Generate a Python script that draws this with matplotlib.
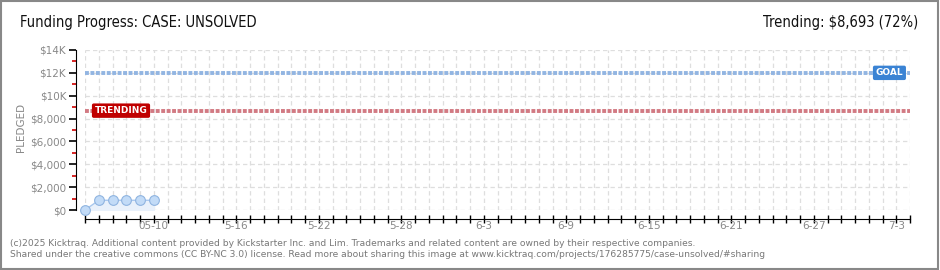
import pandas as pd
import numpy as np
import matplotlib
matplotlib.use('Agg')
import matplotlib.pyplot as plt
import matplotlib.dates as mdates
from matplotlib.ticker import FixedLocator
from matplotlib.patches import Rectangle

# data
dates = ['2025-05-05', '2025-05-06', '2025-05-07', '2025-05-08', '2025-05-09', '2025-05-10']
pledged = [0, 850, 850, 850, 850, 850]
goal = 12000
trending = 8693
title = 'Funding Progress: CASE: UNSOLVED'
label_dates = ['2025-05-10', '2025-05-16', '2025-05-22', '2025-05-28', '2025-06-03',
               '2025-06-09', '2025-06-15', '2025-06-21', '2025-06-27', '2025-07-03']
label_text = ['05-10', '5-16', '5-22', '5-28', '6-3', '6-9', '6-15', '6-21', '6-27', '7-3']
y_ticks = [0, 2000, 4000, 6000, 8000, 10000, 12000, 14000]
y_labels = ['$0', '$2,000', '$4,000', '$6,000', '$8,000', '$10K', '$12K', '$14K']

d = pd.to_datetime(dates)
x0 = pd.Timestamp('2025-05-05')
x1 = pd.Timestamp('2025-07-04')

fig = plt.figure(figsize=(9.4, 2.7), dpi=100)
ax = fig.add_axes([85/940, 60/270, 825/940, 160/270])

ax.fill_between(d, pledged, 0, color='#e9f1fb', zorder=2)
ax.plot(d, pledged, color='#a9c8ee', lw=1, zorder=3)
ax.plot(d, pledged, 'o', ms=7, mfc='#c2dbf7', mec='#8fb4e0', mew=0.8, zorder=4, clip_on=False)

ax.axhline(goal, color='#92b5e2', lw=2.8, ls=(0, (1, 0.4)), zorder=3)
ax.axhline(trending, color='#d27a83', lw=2.8, ls=(0, (1, 0.4)), zorder=3)

ax.set_xlim(x0, x1)
ax.set_ylim(0, 14000)

# grid
ax.xaxis.set_major_locator(mdates.DayLocator())
ax.xaxis.set_major_formatter(plt.NullFormatter())
ax.set_yticks(y_ticks)
ax.set_yticklabels(y_labels)
ax.yaxis.set_minor_locator(FixedLocator([1000, 3000, 5000, 7000, 9000, 11000, 13000]))
ax.grid(True, which='major', color='#dedede', ls=(0, (3.5, 2.5)), lw=0.9, zorder=0)

for s in ['top', 'right']:
    ax.spines[s].set_visible(False)
ax.spines['left'].set_position(('outward', 6.5))
ax.spines['bottom'].set_position(('outward', 6.5))
ax.spines['left'].set_bounds(0, 14000)
ax.tick_params(axis='y', which='major', length=5, width=1.2, color='black',
               labelsize=7.5, labelcolor='#888888', pad=2)
ax.tick_params(axis='y', which='minor', length=3, width=1.2, color='#d00000')
ax.tick_params(axis='x', which='major', length=6, width=1, direction='inout', color='black')

for ld, lt in zip(label_dates, label_text):
    ax.annotate(lt, xy=(mdates.date2num(pd.Timestamp(ld)), 0), xycoords=('data', 'axes fraction'),
                xytext=(0, -11.5), textcoords='offset points', ha='center', va='center',
                fontsize=7.5, color='#888888')

fig.text(21/940, 1 - 127/270, 'PLEDGED', fontsize=7.5, color='#888888', rotation=90,
         ha='center', va='center')

# markers on the lines
ax.text(mdates.date2num(x0) + 57.5, goal, 'GOAL', fontsize=6.5, color='white',
        fontweight='bold', ha='left', va='center', zorder=5,
        bbox=dict(boxstyle='round,pad=0.3,rounding_size=0.2', fc='#3a83d4', ec='none'))
ax.text(mdates.date2num(x0) + 0.7, trending, 'TRENDING', fontsize=6.5,
        color='white', fontweight='bold', ha='left', va='center', zorder=5,
        bbox=dict(boxstyle='round,pad=0.3,rounding_size=0.2', fc='#c00000', ec='none'))

fig.text(20/940, 1 - 23/270, title, fontsize=10.5, family='DejaVu Sans', fontstretch='condensed',
         ha='left', va='center', color='#111111')
fig.text(918/940, 1 - 23/270, 'Trending: $8,693 (72%)', fontsize=10.5, family='DejaVu Sans',
         fontstretch='condensed', ha='right', va='center', color='#111111')

foot = ('(c)2025 Kicktraq. Additional content provided by Kickstarter Inc. and Lim. Trademarks and related content are owned by their respective companies.\n'
        'Shared under the creative commons (CC BY-NC 3.0) license. Read more about sharing this image at www.kicktraq.com/projects/176285775/case-unsolved/#sharing')
fig.text(10/940, 1 - 249/270, foot, fontsize=6.6, color='#777777', ha='left', va='center', linespacing=1.3)

fig.patches.append(Rectangle((0.001, 0.002), 0.997, 0.995, transform=fig.transFigure,
                             fill=False, ec='#888888', lw=1.5))

fig.savefig('out.png', dpi=100)
